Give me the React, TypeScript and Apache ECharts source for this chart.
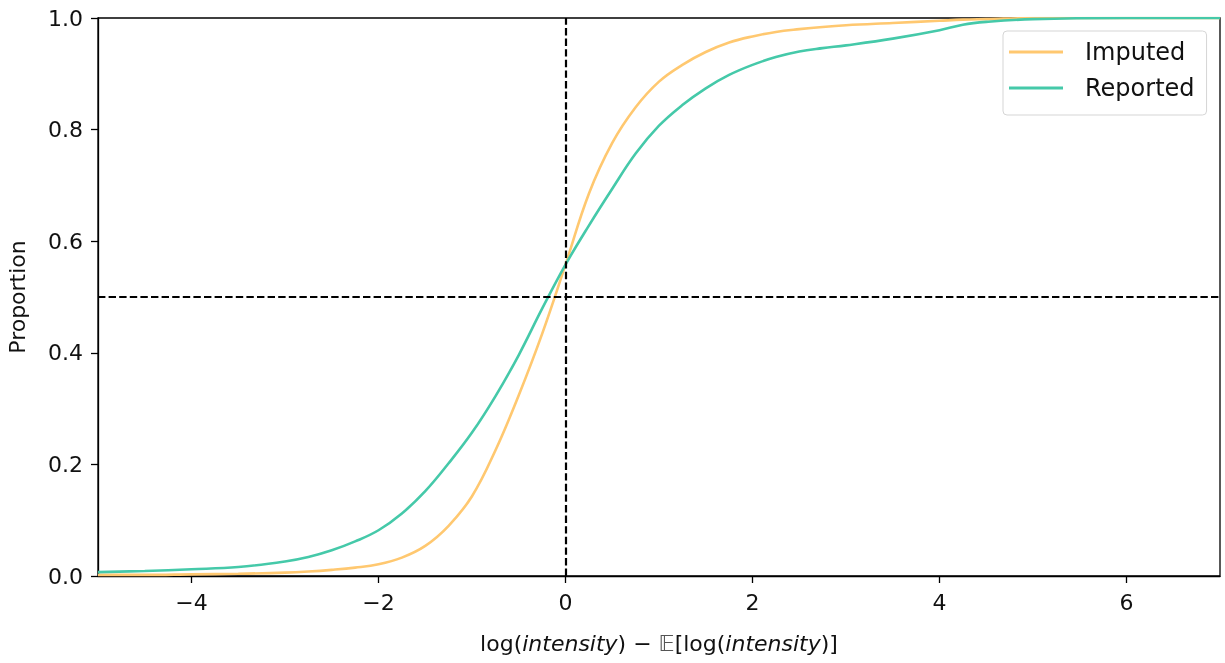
import React, { useEffect, useRef } from "react";
import * as echarts from "echarts";

const xValues = [-5, -4.5, -4, -3.5, -3, -2.75, -2.5, -2.25, -2, -1.75, -1.5, -1.25, -1, -0.75, -0.5, -0.25, 0, 0.25, 0.5, 0.75, 1, 1.25, 1.5, 1.75, 2, 2.25, 2.5, 2.75, 3, 3.5, 4, 4.25, 4.5, 5, 6, 7];
const reported = [0.007, 0.009, 0.012, 0.016, 0.026, 0.034, 0.046, 0.062, 0.082, 0.112, 0.152, 0.202, 0.257, 0.322, 0.396, 0.479, 0.558, 0.628, 0.694, 0.757, 0.807, 0.844, 0.874, 0.898, 0.916, 0.930, 0.940, 0.946, 0.951, 0.963, 0.978, 0.988, 0.993, 0.998, 1.0, 1.0];
const imputed = [0.002, 0.002, 0.003, 0.004, 0.006, 0.008, 0.011, 0.015, 0.021, 0.033, 0.054, 0.090, 0.143, 0.225, 0.324, 0.434, 0.558, 0.685, 0.776, 0.840, 0.886, 0.916, 0.939, 0.956, 0.967, 0.975, 0.980, 0.984, 0.987, 0.991, 0.995, 0.997, 0.998, 1.0, 1.0, 1.0];
const xTicks = [-4, -2, 0, 2, 4, 6];
const refY = [0.5];
const refX = [0];
const seriesNames = ["Imputed", "Reported"];

const FONT = "DejaVu Sans";

export default function App() {
  const ref = useRef<HTMLDivElement>(null);
  useEffect(() => {
    if (!ref.current) return;
    const chart = echarts.init(ref.current, undefined, { renderer: "svg" });
    const dash = { color: "#000", width: 2.2, type: [7.4, 3.2] as any };
    chart.setOption({
      animation: false,
      grid: {
        left: 98, right: 5, top: 18, bottom: 87,
        outerBoundsMode: "none",
        containLabel: false,
        show: true, borderColor: "#000", borderWidth: 1.3, backgroundColor: "transparent",
      },
      legend: {
        orient: "vertical",
        left: 1003,
        top: 31,
        data: seriesNames,
        icon: "rect",
        itemWidth: 54,
        itemHeight: 3,
        itemGap: 12,
        padding: [9, 12, 15, 6],
        backgroundColor: "rgba(255,255,255,0.8)",
        borderColor: "#d5d5d5",
        borderWidth: 1,
        borderRadius: 4,
        textStyle: { fontFamily: FONT, fontSize: 24, lineHeight: 24, color: "#111", padding: [0, 0, 0, 17] },
      },
      xAxis: {
        type: "value",
        min: -5,
        max: 7,
        splitLine: { show: false },
        axisLine: { show: true, onZero: false, lineStyle: { color: "#000", width: 1.3 } },
        axisTick: { show: true, length: 7, customValues: xTicks, lineStyle: { color: "#000", width: 1.3 } },
        axisLabel: {
          customValues: xTicks,
          margin: 15,
          fontFamily: FONT,
          fontSize: 22,
          color: "#111",
          formatter: (v: number) => (v < 0 ? "\u2212" + Math.abs(v) : String(v)),
        },
        name: "{n|log(}{i|intensity}{n|) \u2212 }{e|\u{1D53C}}{n|[log(}{i|intensity}{n|)]}",
        nameLocation: "middle",
        nameGap: 56,
        nameTextStyle: {
          fontFamily: FONT,
          fontSize: 22,
          color: "#111",
          rich: {
            n: { fontFamily: FONT, fontSize: 22, color: "#111" },
            i: { fontFamily: FONT, fontSize: 22, fontStyle: "italic", color: "#111" },
            e: { fontFamily: FONT, fontSize: 22, color: "#555" },
          },
        },
      },
      yAxis: {
        type: "value",
        min: 0,
        max: 1,
        interval: 0.2,
        splitLine: { show: false },
        axisLine: { show: true, onZero: false, lineStyle: { color: "#000", width: 1.3 } },
        axisTick: { show: true, length: 7, lineStyle: { color: "#000", width: 1.3 } },
        axisLabel: { margin: 15, fontFamily: FONT, fontSize: 22, color: "#111", formatter: (v: number) => v.toFixed(1) },
        name: "Proportion",
        nameLocation: "middle",
        nameGap: 70,
        nameTextStyle: { fontFamily: FONT, fontSize: 22, color: "#111" },
      },
      series: [
        {
          name: seriesNames[0],
          type: "line",
          data: xValues.map((x, i) => [x, imputed[i]]),
          showSymbol: false,
          symbol: "none",
          smooth: 0.4,
          lineStyle: { color: "#ffc870", width: 2.6 },
          itemStyle: { color: "#ffc870" },
          z: 2,
        },
        {
          name: seriesNames[1],
          type: "line",
          data: xValues.map((x, i) => [x, reported[i]]),
          showSymbol: false,
          symbol: "none",
          smooth: 0.4,
          lineStyle: { color: "#45c9a9", width: 2.6 },
          itemStyle: { color: "#45c9a9" },
          z: 3,
          markLine: {
            silent: true,
            symbol: "none",
            label: { show: false },
            lineStyle: dash,
            z: 5,
            data: [...refY.map((v) => ({ yAxis: v })), ...refX.map((v) => ({ xAxis: v }))],
          },
        },
      ],
    });
    return () => chart.dispose();
  }, []);
  return <div ref={ref} style={{ position: "fixed", left: 0, top: 0, width: 1225, height: 663 }} />;
}
